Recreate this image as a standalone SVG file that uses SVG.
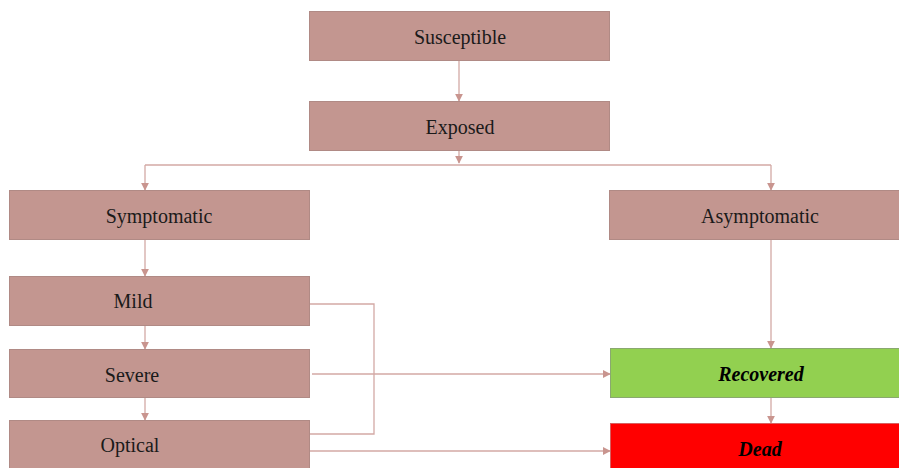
<svg xmlns="http://www.w3.org/2000/svg" width="899" height="468" viewBox="0 0 899 468">
  <style>
    .box { fill: #c39690; stroke: #b08a85; stroke-width: 1; }
    .rec { fill: #92d050; stroke: #8aa870; stroke-width: 1; }
    .dead { fill: #ff0000; stroke: #d86060; stroke-width: 1; }
    .lbl { font-family: "Liberation Serif", "DejaVu Serif", serif; font-size: 20px; fill: #1a1a1a; text-anchor: middle; }
    .bi { font-weight: bold; font-style: italic; fill: #000; }
    .edge { fill: none; stroke: #d3a9a5; stroke-width: 1.3; }
  </style>
  <defs>
    <marker id="arr" viewBox="0 0 10 10" refX="9" refY="5" markerWidth="8" markerHeight="8" markerUnits="userSpaceOnUse" orient="auto">
      <path d="M0,0 L10,5 L0,10 z" fill="#c9958f"/>
    </marker>
  </defs>
  <rect width="899" height="468" fill="#ffffff"/>

  <g id="connectors">
    <path class="edge" d="M459,61 V101" marker-end="url(#arr)"/>
    <path class="edge" d="M459,151 V163" marker-end="url(#arr)"/>
    <path class="edge" d="M145,165 H771"/>
    <path class="edge" d="M145,165 V190" marker-end="url(#arr)"/>
    <path class="edge" d="M771,165 V190" marker-end="url(#arr)"/>
    <path class="edge" d="M145,240 V276" marker-end="url(#arr)"/>
    <path class="edge" d="M145,326 V349" marker-end="url(#arr)"/>
    <path class="edge" d="M145,398 V420" marker-end="url(#arr)"/>
    <path class="edge" d="M310,304 H374 V434 H310"/>
    <path class="edge" d="M312,374 H610" marker-end="url(#arr)"/>
    <path class="edge" d="M310,451 H610" marker-end="url(#arr)"/>
    <path class="edge" d="M771,240 V348" marker-end="url(#arr)"/>
    <path class="edge" d="M771,398 V423" marker-end="url(#arr)"/>
  </g>

  <g id="susceptible">
    <rect class="box" x="309.5" y="11.5" width="300" height="49"/>
    <text class="lbl" x="460" y="44">Susceptible</text>
  </g>
  <g id="exposed">
    <rect class="box" x="309.5" y="101.5" width="300" height="49"/>
    <text class="lbl" x="460" y="134">Exposed</text>
  </g>
  <g id="symptomatic">
    <rect class="box" x="9.5" y="190.5" width="300" height="49"/>
    <text class="lbl" x="159" y="223">Symptomatic</text>
  </g>
  <g id="asymptomatic">
    <rect class="box" x="609.5" y="190.5" width="291" height="49"/>
    <text class="lbl" x="760" y="223">Asymptomatic</text>
  </g>
  <g id="mild">
    <rect class="box" x="9.5" y="276.5" width="300" height="49"/>
    <text class="lbl" x="133" y="308">Mild</text>
  </g>
  <g id="severe">
    <rect class="box" x="9.5" y="349.5" width="300" height="48"/>
    <text class="lbl" x="132" y="382">Severe</text>
  </g>
  <g id="optical">
    <rect class="box" x="9.5" y="420.5" width="300" height="49"/>
    <text class="lbl" x="130" y="452">Optical</text>
  </g>
  <g id="recovered">
    <rect class="rec" x="610.5" y="348.5" width="290" height="49"/>
    <text class="lbl bi" x="761" y="381">Recovered</text>
  </g>
  <g id="dead">
    <rect class="dead" x="610.5" y="423.5" width="290" height="46"/>
    <text class="lbl bi" x="760" y="456">Dead</text>
  </g>
</svg>
